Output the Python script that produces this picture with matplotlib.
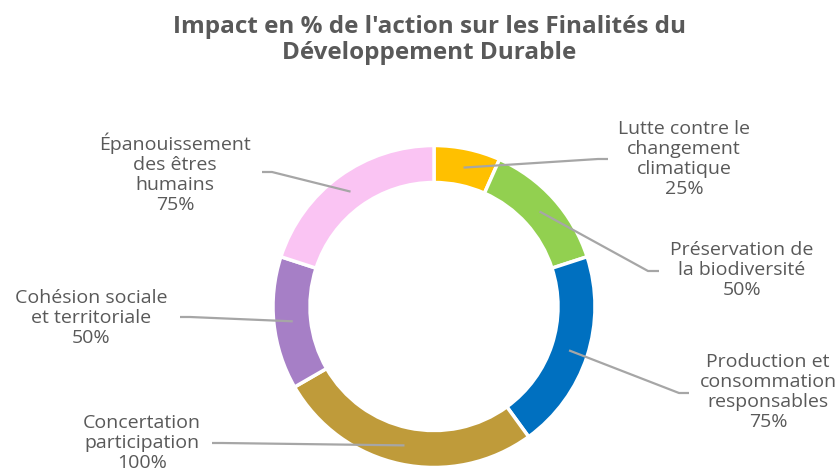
import numpy as np
import matplotlib
matplotlib.use('Agg')
import matplotlib.pyplot as plt

# données
categories = ['Lutte contre le\nchangement\nclimatique',
              'Préservation de\nla biodiversité',
              'Production et\nconsommation\nresponsables',
              'Concertation\nparticipation',
              'Cohésion sociale\net territoriale',
              'Épanouissement\ndes êtres\nhumains']
values = [25, 50, 75, 100, 50, 75]
colors = ['#FFC000', '#92D050', '#0070C0', '#BF9B3A', '#A67FC6', '#FAC4F3']

W, H = 838, 470
TXT = '#595959'
LINE = '#A6A6A6'

# positions des étiquettes (pixels, origine en haut à gauche)
label_pos = [(684, 159), (742, 270), (768, 392), (142, 443), (91, 318), (175, 173)]
# coude + fin du trait de rappel
leader_pts = [[(598, 159), (608, 159)],
              [(648, 271), (659, 271)],
              [(679, 393), (689, 393)],
              [(222, 443), (212, 443)],
              [(190, 317), (180, 317)],
              [(272, 172), (262, 172)]]

plt.rcParams['font.family'] = ['Open Sans', 'DejaVu Sans']

fig = plt.figure(figsize=(W / 100, H / 100), dpi=100)
ax = fig.add_axes([0, 0, 1, 1])

cx, cy, r = 434, H - 306.5, 161
wedges, _ = ax.pie(values, colors=colors, startangle=90, counterclock=False,
                   center=(cx, cy), radius=r,
                   wedgeprops=dict(width=37, edgecolor='white', linewidth=2.5))

for w, lab, v, (tx, ty), pts in zip(wedges, categories, values, label_pos, leader_pts):
    ang = np.deg2rad((w.theta1 + w.theta2) / 2)
    ax_ = cx + 142 * np.cos(ang)
    ay_ = cy + 142 * np.sin(ang)
    xs = [ax_] + [p[0] for p in pts]
    ys = [ay_] + [H - p[1] for p in pts]
    ax.plot(xs, ys, color=LINE, lw=1.6, solid_capstyle='butt')
    ax.text(tx, H - ty, f'{lab}\n{v}%', ha='center', va='center',
            fontsize=14, color=TXT, linespacing=1.15)

ax.text(429, H - 40, "Impact en % de l'action sur les Finalités du\nDéveloppement Durable",
        ha='center', va='center', fontsize=17.5, fontweight='bold', color=TXT,
        linespacing=1.1)

ax.set_xlim(0, W)
ax.set_ylim(0, H)
ax.set_aspect('equal')
ax.axis('off')

fig.savefig('out.png', dpi=100)
